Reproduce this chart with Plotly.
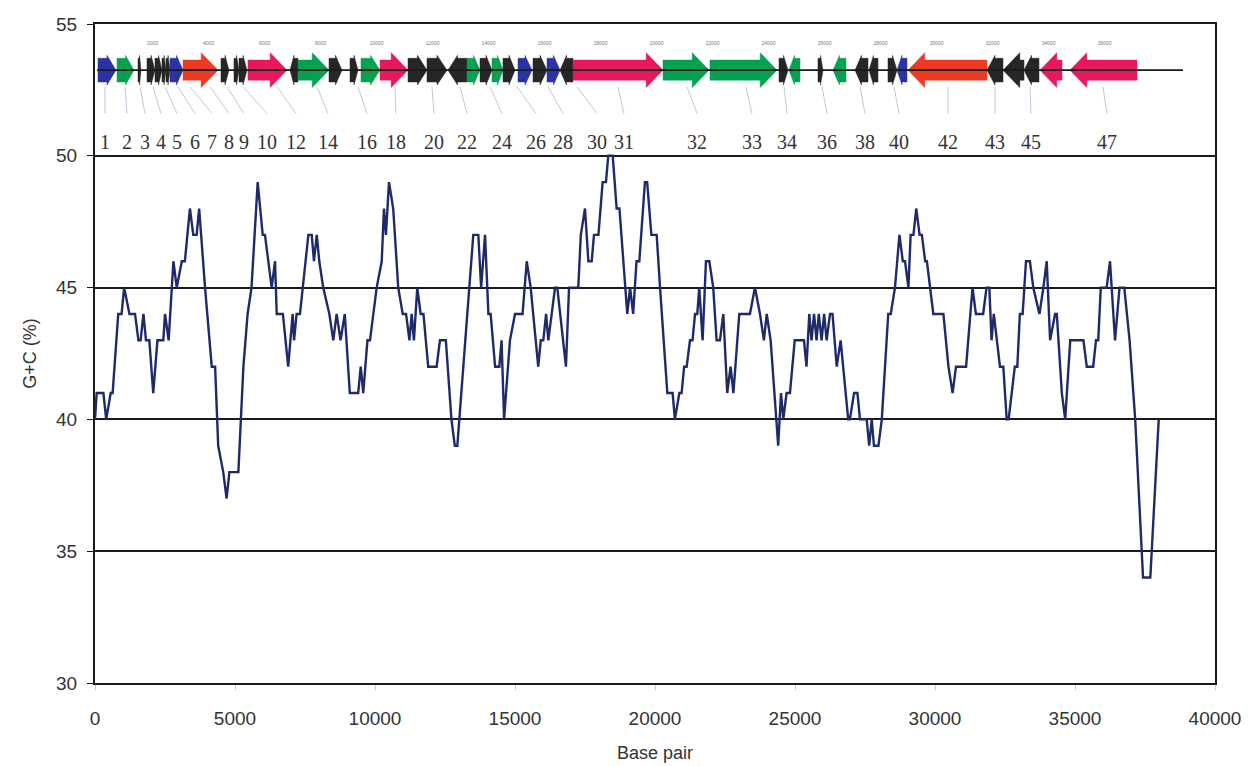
import plotly.graph_objects as go

# ---------------- G+C content profile ----------------
gc_bp = [0, 60, 300, 400, 560, 630, 830, 950, 1040, 1230, 1430, 1550, 1630, 1730, 1820, 1940,
         2080, 2230, 2440, 2500, 2630, 2800, 2920, 3100, 3210, 3390, 3510, 3630, 3720, 3930,
         4170, 4290, 4400, 4580, 4700, 4800, 5120, 5300, 5450, 5590, 5810, 5990, 6070, 6190,
         6310, 6430, 6490, 6710, 6900, 7060, 7110, 7200, 7320, 7620, 7740, 7820, 7920, 8010,
         8150, 8370, 8510, 8630, 8770, 8920, 9040, 9100, 9400, 9490, 9580, 9730, 9821, 10060,
         10240, 10320, 10390, 10500, 10650, 10830, 10990, 11110, 11230, 11310, 11390, 11510,
         11630, 11730, 11900, 12200, 12320, 12530, 12730, 12850, 12940, 13510, 13690, 13790,
         13930, 14050, 14130, 14290, 14440, 14520, 14610, 14820, 15000, 15270, 15420, 15560,
         15830, 15920, 16010, 16110, 16190, 16430, 16510, 16820, 16930, 17260, 17350, 17500,
         17620, 17740, 17820, 17980, 18130, 18250, 18330, 18490, 18630, 18730, 18870, 19010,
         19110, 19220, 19340, 19440, 19640, 19720, 19870, 20060, 20180, 20440, 20630, 20710,
         20870, 20950, 21040, 21130, 21250, 21340, 21430, 21510, 21580, 21700, 21820, 21940,
         22080, 22200, 22320, 22440, 22580, 22700, 22800, 23010, 23390, 23570, 23750, 23890,
         23990, 24130, 24400, 24500, 24580, 24700, 24820, 24990, 25320, 25410, 25510, 25590,
         25680, 25770, 25850, 25950, 26040, 26130, 26250, 26340, 26490, 26630, 26900, 26960,
         27110, 27230, 27320, 27560, 27650, 27740, 27820, 27980, 28100, 28330, 28420, 28570,
         28730, 28850, 28930, 29050, 29130, 29230, 29330, 29450, 29530, 29650, 29710, 29820,
         29940, 30300, 30480, 30630, 30750, 31110, 31340, 31460, 31720, 31840, 31940, 32020,
         32100, 32320, 32440, 32560, 32630, 32850, 32940, 33030, 33130, 33250, 33390, 33510,
         33730, 33870, 33990, 34110, 34290, 34350, 34530, 34650, 34830, 35300, 35420, 35650,
         35750, 35830, 35920, 36130, 36250, 36430, 36590, 36760, 36950, 37150, 37330, 37430,
         37690, 37790, 37990]
gc_pct = [40, 41, 41, 40, 41, 41, 44, 44, 45, 44, 44, 43, 43, 44, 43, 43,
          41, 43, 43, 44, 43, 46, 45, 46, 46, 48, 47, 47, 48, 45,
          42, 42, 39, 38, 37, 38, 38, 42, 44, 45, 49, 47, 47, 46,
          45, 46, 44, 44, 42, 44, 43, 44, 44, 47, 47, 46, 47, 46,
          45, 44, 43, 44, 43, 44, 42, 41, 41, 42, 41, 43, 43, 45,
          46, 48, 47, 49, 48, 45, 44, 44, 43, 44, 43, 45,
          44, 44, 42, 42, 43, 43, 40, 39, 39, 47, 47, 45,
          47, 44, 44, 42, 42, 43, 40, 43, 44, 44, 46, 45,
          42, 43, 43, 44, 43, 45, 45, 42, 45, 45, 47, 48,
          46, 46, 47, 47, 49, 49, 50, 50, 48, 48, 46, 44,
          45, 44, 46, 46, 49, 49, 47, 47, 45, 41, 41, 40,
          41, 41, 42, 42, 43, 43, 44, 44, 45, 43, 46, 46,
          45, 43, 43, 44, 41, 42, 41, 44, 44, 45, 44, 43,
          44, 43, 39, 41, 40, 41, 41, 43, 43, 42, 44, 43,
          44, 43, 44, 43, 44, 43, 44, 44, 42, 43, 40, 40,
          41, 41, 40, 40, 39, 40, 39, 39, 40, 44, 44, 45,
          47, 46, 46, 45, 47, 47, 48, 47, 47, 46, 46, 45,
          44, 44, 42, 41, 42, 42, 45, 44, 44, 45, 45, 43,
          44, 42, 42, 40, 40, 42, 42, 44, 44, 46, 46, 45,
          44, 45, 46, 43, 44, 44, 41, 40, 43, 43, 42, 42,
          43, 43, 45, 45, 46, 43, 45, 45, 43, 40, 36, 34,
          34, 36, 40]

# ---------------- Gene map (ORFs) ----------------
gene_start = [107, 786, 1536, 1857, 2143, 2393, 2536, 2679, 3143, 4500, 4964, 5143, 5464, 6964,
              7250, 8357, 9107, 9500, 10179, 11179, 11857, 12607, 13286, 13750, 14179, 14571,
              15107, 15643, 16143, 16607, 17071, 20286, 21964, 24429, 24786, 25821, 26357,
              27143, 27643, 28321, 28643, 29036, 31857, 32429, 33179, 33750, 34821]
gene_end = [750, 1393, 1643, 2143, 2393, 2536, 2679, 3143, 4393, 4786, 5143, 5429, 6857, 7250,
            8357, 8821, 9393, 10179, 11179, 11857, 12571, 13286, 13750, 14179, 14571, 15000,
            15607, 16143, 16607, 17071, 20286, 21929, 24357, 24750, 25179, 26000, 26821,
            27607, 27964, 28643, 29000, 31857, 32429, 33179, 33714, 34536, 37214]
gene_strand = ["+", "+", "+", "+", "+", "+", "+", "+", "+", "+", "+", "+", "+", "-",
               "+", "+", "+", "+", "+", "+", "+", "-", "+", "+", "+", "+",
               "+", "+", "+", "-", "+", "+", "+", "+", "-", "+", "-",
               "-", "-", "+", "-", "-", "-", "-", "-", "-", "-"]
gene_class = ["blue", "green", "black", "black", "black", "black", "black", "blue", "red",
              "black", "black", "black", "pink", "black", "green", "black", "black", "green",
              "pink", "black", "black", "black", "green", "black", "green", "black", "blue",
              "black", "blue", "black", "pink", "green", "green", "black", "green", "black",
              "green", "black", "black", "black", "blue", "red", "black", "black", "black",
              "pink", "pink"]

label_text = ["1", "2", "3", "4", "5", "6", "7", "8", "9", "10", "12", "14", "16", "18", "20",
              "22", "24", "26", "28", "30", "31", "32", "33", "34", "36", "38", "40", "42",
              "43", "45", "47"]
label_bp = [357, 1143, 1786, 2357, 2929, 3571, 4179, 4786, 5321, 6143, 7179, 8321, 9714,
            10750, 12107, 13286, 14536, 15750, 16714, 17929, 18893, 21500, 23464, 24714,
            26143, 27500, 28714, 30464, 32143, 33429, 36143]
leader_bp = [357, 1071, 1607, 2071, 2500, 2964, 3393, 4107, 4714, 5286, 6500, 7929, 9393,
             10714, 12036, 13036, 14107, 15071, 16179, 17214, 18679, 21143, 23250, 24607,
             25964, 27321, 28536, 30464, 32143, 33393, 36000]

map_scale_labels = [2000, 4000, 6000, 8000, 10000, 12000, 14000, 16000, 18000, 20000,
                    22000, 24000, 26000, 28000, 30000, 32000, 34000, 36000]
map_track_extent = [71, 38857]

x_ticks = [0, 5000, 10000, 15000, 20000, 25000, 30000, 35000, 40000]
y_ticks = [30, 35, 40, 45, 50, 55]

# ---------------- styles ----------------
COLORS = {"blue": "#2a33a6", "green": "#03a24f", "red": "#ee3a22",
          "pink": "#e8185c", "black": "#262626"}
TRACK_Y = 53.25
HEAD_BP = 600
MAP_OFFSET = 60
SANS = "Liberation Sans, Arial, sans-serif"
SERIF = "Liberation Serif, Times New Roman, serif"
TXT = "#333333"


def arrow_poly(s, e, strand, y0):
    L = e - s
    if L < 1.2 * HEAD_BP:
        h, b, a = 0.5 * L, 0.45, 0.56
    else:
        h, b, a = HEAD_BP, 0.38, 0.66
    if strand == "+":
        xs = [s, e - h, e - h, e, e - h, e - h, s, s]
    else:
        xs = [e, s + h, s + h, s, s + h, s + h, e, e]
    ys = [y0 - b, y0 - b, y0 - a, y0, y0 + a, y0 + b, y0 + b, y0 - b]
    return xs, ys


fig = go.Figure()

# leader lines from genes to labels
lx, ly = [], []
for top, bot in zip(leader_bp, label_bp):
    lx += [top, bot, None]
    ly += [52.62, 51.6, None]
fig.add_trace(go.Scatter(x=lx, y=ly, mode="lines", line=dict(color="#a8bccf", width=0.8),
                         hoverinfo="skip", showlegend=False))

# gene arrows
for s, e, st, c in zip(gene_start, gene_end, gene_strand, gene_class):
    xs, ys = arrow_poly(s, e, st, TRACK_Y)
    fig.add_trace(go.Scatter(x=xs, y=ys, mode="lines", fill="toself",
                             fillcolor=COLORS[c], line=dict(color=COLORS[c], width=0.5),
                             hoverinfo="skip", showlegend=False))

# track line
fig.add_trace(go.Scatter(x=map_track_extent, y=[TRACK_Y, TRACK_Y], mode="lines",
                         line=dict(color="#1a1a1a", width=1.6), hoverinfo="skip",
                         showlegend=False))

# tiny scale labels of the map
fig.add_trace(go.Scatter(x=[v + MAP_OFFSET for v in map_scale_labels], y=[54.24] * len(map_scale_labels),
                         mode="text", text=[str(v) for v in map_scale_labels],
                         textfont=dict(size=5, color="#777777", family=SANS),
                         hoverinfo="skip", showlegend=False))

# gene labels
fig.add_trace(go.Scatter(x=label_bp, y=[50.45] * len(label_bp), mode="text", text=label_text,
                         textfont=dict(size=20, color=TXT, family=SERIF),
                         hoverinfo="skip", showlegend=False))

# G+C profile
fig.add_trace(go.Scatter(x=gc_bp, y=gc_pct, mode="lines",
                         line=dict(color="#1f2a6b", width=2.4), showlegend=False,
                         name="G+C"))

fig.update_layout(
    width=1245, height=758,
    margin=dict(l=87, r=38, t=16, b=83),
    paper_bgcolor="white", plot_bgcolor="white",
    font=dict(family=SANS, color=TXT),
    xaxis=dict(range=[0, 40000], tickvals=x_ticks, ticktext=[str(v) for v in x_ticks],
               automargin=False, showgrid=False, zeroline=False,
               showline=True, mirror=True, linecolor="#1a1a1a", linewidth=2,
               ticks="outside", ticklen=5, tickcolor="#cccccc", tickwidth=1,
               ticklabelstandoff=12,
               tickfont=dict(size=19, color=TXT, family=SANS),
               title=dict(text="Base pair", font=dict(size=18, color=TXT, family=SANS),
                          standoff=19)),
    yaxis=dict(range=[30, 55], tickvals=y_ticks, automargin=False, showgrid=True,
               gridcolor="#1a1a1a",
               gridwidth=2, zeroline=False, showline=True, mirror=True,
               linecolor="#1a1a1a", linewidth=2, ticks="outside", ticklen=6,
               tickcolor="#1a1a1a", tickwidth=1, ticklabelstandoff=6,
               tickfont=dict(size=19, color=TXT, family=SANS),
               title=dict(text="G+C (%)", font=dict(size=18, color=TXT, family=SANS),
                          standoff=15)),
)

fig.write_html("out.html")
